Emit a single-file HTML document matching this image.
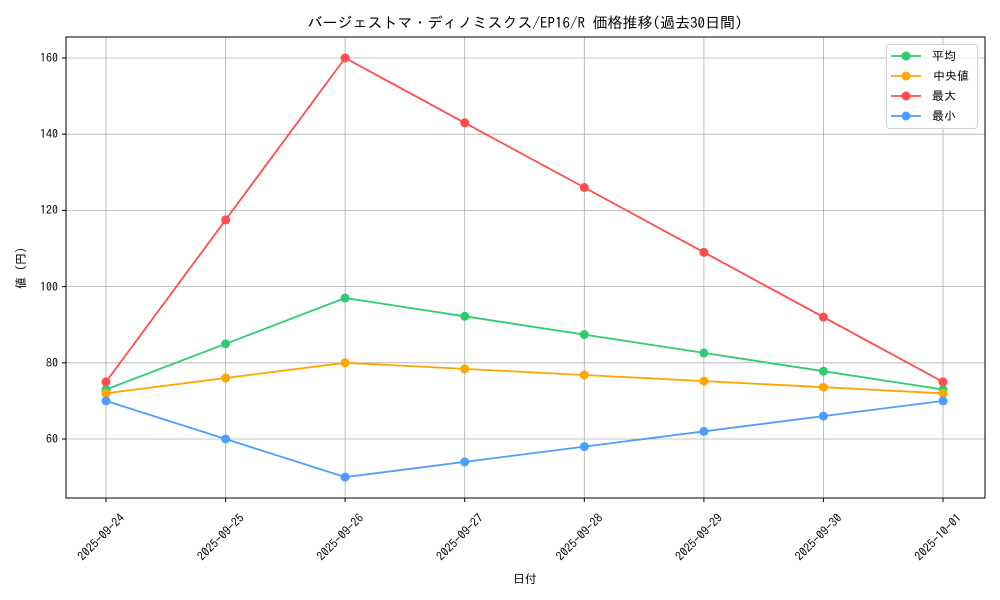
<!DOCTYPE html>
<html><head><meta charset="utf-8"><style>body{margin:0;background:#fff}svg{display:block}text{font-family:"IPAGothic","Noto Sans CJK JP","Liberation Sans",sans-serif;fill:#000}</style></head><body>
<svg width="1000" height="600" viewBox="0 0 1000 600" xmlns="http://www.w3.org/2000/svg">
<rect width="1000" height="600" fill="#fff"/>
<g stroke="#b0b0b0" stroke-width="0.8">
<line x1="106" y1="37" x2="106" y2="498"/><line x1="225.6" y1="37" x2="225.6" y2="498"/><line x1="345.1" y1="37" x2="345.1" y2="498"/><line x1="464.7" y1="37" x2="464.7" y2="498"/><line x1="584.3" y1="37" x2="584.3" y2="498"/><line x1="703.9" y1="37" x2="703.9" y2="498"/><line x1="823.4" y1="37" x2="823.4" y2="498"/><line x1="943" y1="37" x2="943" y2="498"/>
<line x1="66" y1="439" x2="985" y2="439"/><line x1="66" y1="362.8" x2="985" y2="362.8"/><line x1="66" y1="286.6" x2="985" y2="286.6"/><line x1="66" y1="210.4" x2="985" y2="210.4"/><line x1="66" y1="134.2" x2="985" y2="134.2"/><line x1="66" y1="58" x2="985" y2="58"/>
</g>
<g fill="none" stroke-width="1.8">
<polyline stroke="#2ecc71" points="106,389.5 225.6,343.8 345.1,298 464.7,316.3 584.3,334.6 703.9,352.9 823.4,371.2 943,389.5"/>
<polyline stroke="#ffa500" points="106,393.3 225.6,378 345.1,362.8 464.7,368.9 584.3,375 703.9,381.1 823.4,387.2 943,393.3"/>
<polyline stroke="#ff4c4c" points="106,381.9 225.6,219.9 345.1,58 464.7,122.8 584.3,187.5 703.9,252.3 823.4,317.1 943,381.9"/>
<polyline stroke="#4a9eff" points="106,400.9 225.6,439 345.1,477.1 464.7,461.9 584.3,446.6 703.9,431.4 823.4,416.1 943,400.9"/>
</g>
<g fill="#2ecc71"><circle cx="106" cy="389.5" r="4.5"/><circle cx="225.6" cy="343.8" r="4.5"/><circle cx="345.1" cy="298" r="4.5"/><circle cx="464.7" cy="316.3" r="4.5"/><circle cx="584.3" cy="334.6" r="4.5"/><circle cx="703.9" cy="352.9" r="4.5"/><circle cx="823.4" cy="371.2" r="4.5"/><circle cx="943" cy="389.5" r="4.5"/></g>
<g fill="#ffa500"><circle cx="106" cy="393.3" r="4.5"/><circle cx="225.6" cy="378" r="4.5"/><circle cx="345.1" cy="362.8" r="4.5"/><circle cx="464.7" cy="368.9" r="4.5"/><circle cx="584.3" cy="375" r="4.5"/><circle cx="703.9" cy="381.1" r="4.5"/><circle cx="823.4" cy="387.2" r="4.5"/><circle cx="943" cy="393.3" r="4.5"/></g>
<g fill="#ff4c4c"><circle cx="106" cy="381.9" r="4.5"/><circle cx="225.6" cy="219.9" r="4.5"/><circle cx="345.1" cy="58" r="4.5"/><circle cx="464.7" cy="122.8" r="4.5"/><circle cx="584.3" cy="187.5" r="4.5"/><circle cx="703.9" cy="252.3" r="4.5"/><circle cx="823.4" cy="317.1" r="4.5"/><circle cx="943" cy="381.9" r="4.5"/></g>
<g fill="#4a9eff"><circle cx="106" cy="400.9" r="4.5"/><circle cx="225.6" cy="439" r="4.5"/><circle cx="345.1" cy="477.1" r="4.5"/><circle cx="464.7" cy="461.9" r="4.5"/><circle cx="584.3" cy="446.6" r="4.5"/><circle cx="703.9" cy="431.4" r="4.5"/><circle cx="823.4" cy="416.1" r="4.5"/><circle cx="943" cy="400.9" r="4.5"/></g>
<rect x="66" y="37" width="919" height="461" fill="none" stroke="#000" stroke-width="1"/>
<g stroke="#000"><line x1="106" y1="498" x2="106" y2="502"/><line x1="225.6" y1="498" x2="225.6" y2="502"/><line x1="345.1" y1="498" x2="345.1" y2="502"/><line x1="464.7" y1="498" x2="464.7" y2="502"/><line x1="584.3" y1="498" x2="584.3" y2="502"/><line x1="703.9" y1="498" x2="703.9" y2="502"/><line x1="823.4" y1="498" x2="823.4" y2="502"/><line x1="943" y1="498" x2="943" y2="502"/>
<line x1="62" y1="439" x2="66" y2="439"/><line x1="62" y1="362.8" x2="66" y2="362.8"/><line x1="62" y1="286.6" x2="66" y2="286.6"/><line x1="62" y1="210.4" x2="66" y2="210.4"/><line x1="62" y1="134.2" x2="66" y2="134.2"/><line x1="62" y1="58" x2="66" y2="58"/></g>
<g font-size="12" text-anchor="end"><text x="58" y="443">60</text><text x="58" y="367">80</text><text x="58" y="291">100</text><text x="58" y="214">120</text><text x="58" y="138">140</text><text x="58" y="62">160</text></g>
<g font-size="12" text-anchor="middle">
<text transform="translate(104,540) rotate(-45)">2025-09-24</text>
<text transform="translate(223.6,540) rotate(-45)">2025-09-25</text>
<text transform="translate(343.1,540) rotate(-45)">2025-09-26</text>
<text transform="translate(462.7,540) rotate(-45)">2025-09-27</text>
<text transform="translate(582.3,540) rotate(-45)">2025-09-28</text>
<text transform="translate(701.9,540) rotate(-45)">2025-09-29</text>
<text transform="translate(821.4,540) rotate(-45)">2025-09-30</text>
<text transform="translate(941,540) rotate(-45)">2025-10-01</text>
</g>
<text x="525" y="583" font-size="12" text-anchor="middle">日付</text>
<text transform="translate(25,268) rotate(-90)" font-size="12" text-anchor="middle">値 (円)</text>
<text x="525" y="28" font-size="15" text-anchor="middle">バージェストマ・ディノミスクス/EP16/R 価格推移(過去30日間)</text>
<rect x="886.5" y="44.5" width="91" height="84" rx="3" fill="#fff" fill-opacity="0.8" stroke="#d0d0d0"/>
<g stroke-width="1.8"><line x1="891" y1="56" x2="921" y2="56" stroke="#2ecc71"/><line x1="891" y1="76" x2="921" y2="76" stroke="#ffa500"/><line x1="891" y1="96" x2="921" y2="96" stroke="#ff4c4c"/><line x1="891" y1="116" x2="921" y2="116" stroke="#4a9eff"/></g>
<circle cx="906" cy="56" r="4.5" fill="#2ecc71"/><circle cx="906" cy="76" r="4.5" fill="#ffa500"/><circle cx="906" cy="96" r="4.5" fill="#ff4c4c"/><circle cx="906" cy="116" r="4.5" fill="#4a9eff"/>
<g font-size="12"><text x="932" y="60">平均</text><text x="933" y="80">中央値</text><text x="932" y="100">最大</text><text x="932" y="120">最小</text></g>
</svg>
</body></html>
